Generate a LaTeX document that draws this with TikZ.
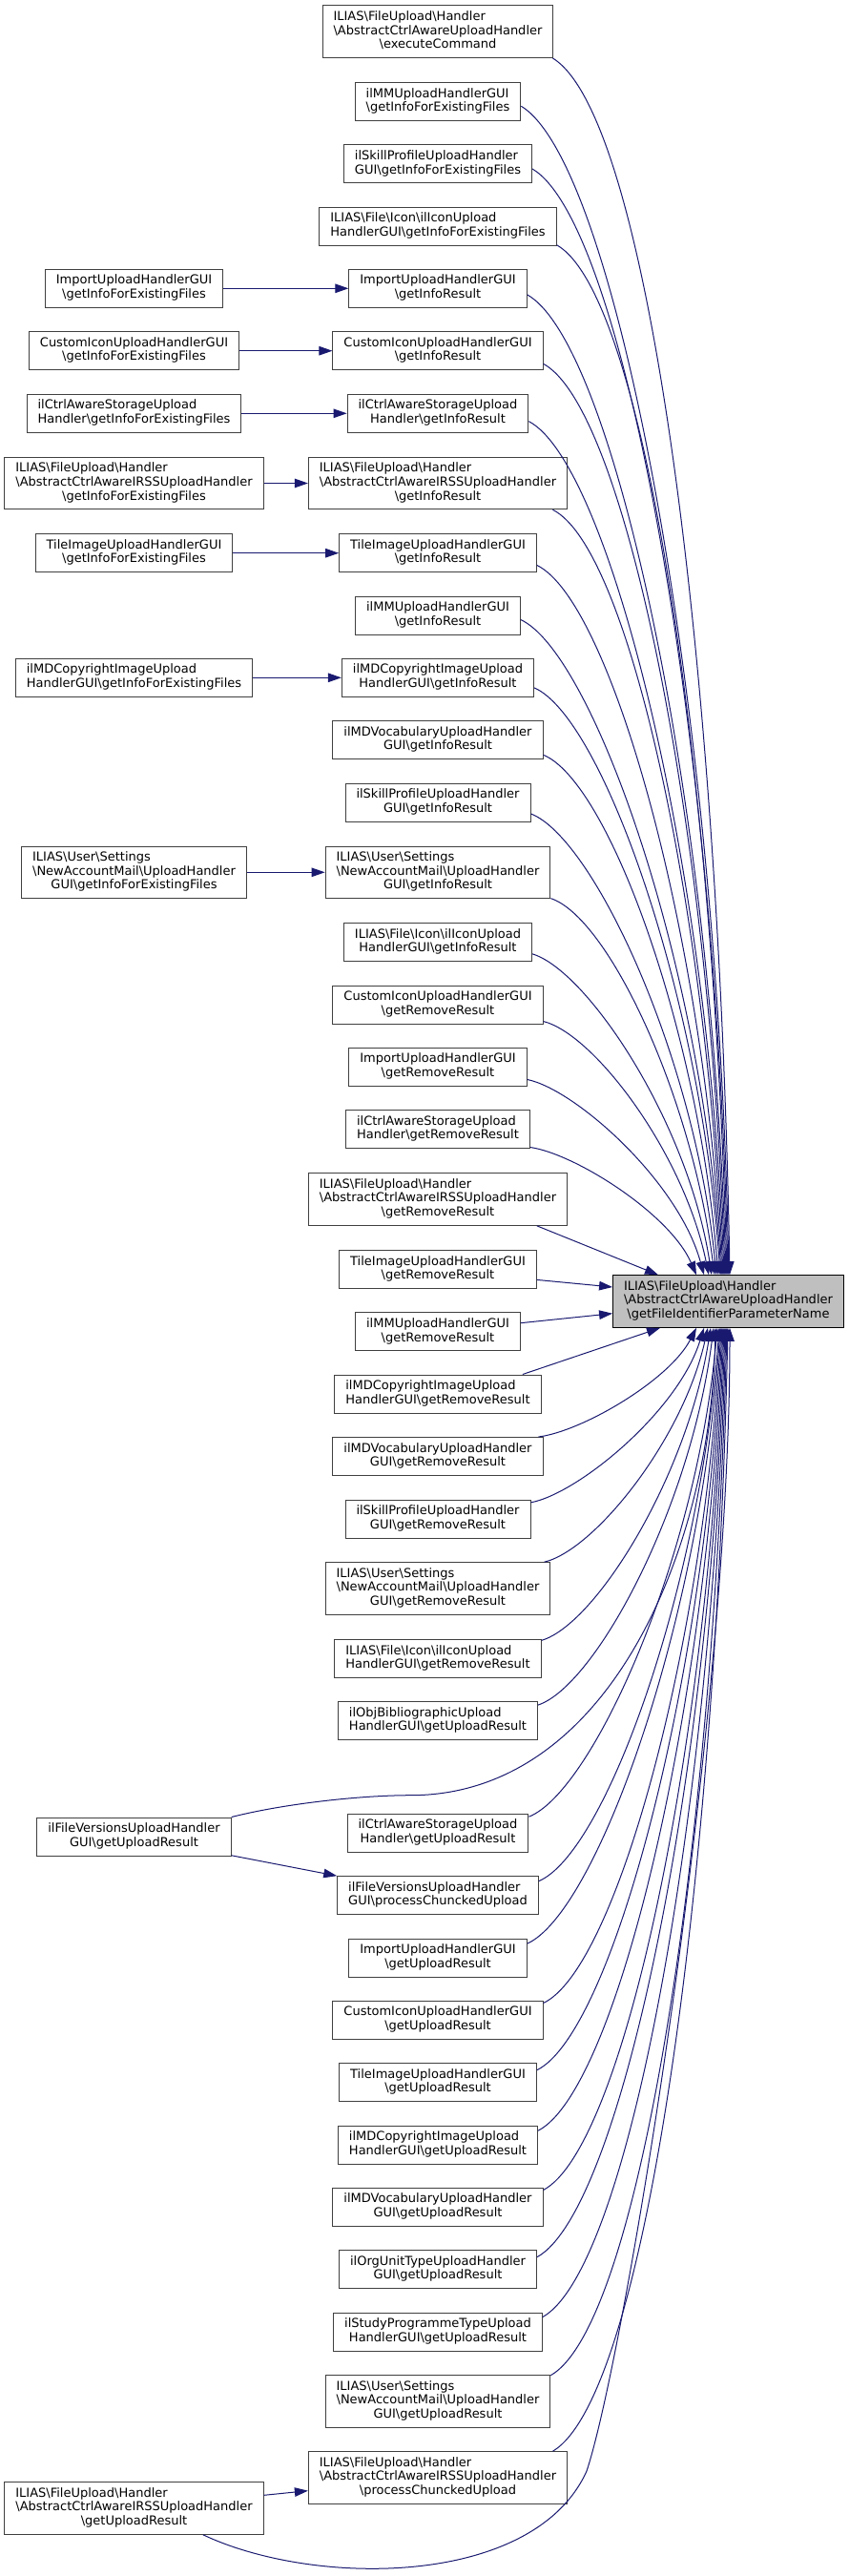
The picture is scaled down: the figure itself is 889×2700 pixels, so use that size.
\documentclass[tikz,border=0pt]{standalone}
\usepackage{fontspec}
\setmainfont{DejaVu Sans}
\usepackage{tikz}
\usetikzlibrary{arrows.meta, calc}
\definecolor{edgeBlue}{RGB}{25, 25, 112}
\definecolor{borderGray}{RGB}{64, 64, 64}
\definecolor{focusGray}{RGB}{191, 191, 191}
\newcommand{\bksl}{\textbackslash}
\newcommand{\twoline}[2]{\begin{tabular}{@{}l@{}}#1\\\multicolumn{1}{@{}c@{}}{#2}\end{tabular}}
\newcommand{\threeline}[3]{\begin{tabular}{@{}l@{}}#1\\#2\\\multicolumn{1}{@{}c@{}}{#3}\end{tabular}}
\tikzset{
  func/.style={rectangle, draw=borderGray, line width=1pt, fill=white, inner xsep=11.5pt, inner ysep=5.4pt, font=\fontsize{13}{14.6}\selectfont},
  focus/.style={func, draw=black, fill=focusGray},
  callarrow/.style={draw=edgeBlue, line width=1pt, -{Triangle[length=14pt, width=9.5pt]}}
}

\begin{document}
\begin{tikzpicture}[x=1pt, y=-1pt]
  \useasboundingbox (0,0) rectangle (889,2700);

  % Nodo de la funcion llamada
  \node[focus] (t) at (763.5,1364) {\threeline{ILIAS\bksl FileUpload\bksl Handler}{\bksl AbstractCtrlAwareUploadHandler}{\bksl getFileIdentifierParameterName}};

  % Columna central: llamadores directos
  \node[func] (m1) at (459,33.2) {\threeline{ILIAS\bksl FileUpload\bksl Handler}{\bksl AbstractCtrlAwareUploadHandler}{\bksl executeCommand}};
  \node[func] (m2) at (459,106.7) {\twoline{ilMMUploadHandlerGUI}{\bksl getInfoForExistingFiles}};
  \node[func] (m3) at (459,171.8) {\twoline{ilSkillProfileUploadHandler}{GUI\bksl getInfoForExistingFiles}};
  \node[func] (m4) at (459,237) {\twoline{ILIAS\bksl File\bksl Icon\bksl ilIconUpload}{HandlerGUI\bksl getInfoForExistingFiles}};
  \node[func] (m5) at (459,302.3) {\twoline{ImportUploadHandlerGUI}{\bksl getInfoResult}};
  \node[func] (m6) at (459,367.7) {\twoline{CustomIconUploadHandlerGUI}{\bksl getInfoResult}};
  \node[func] (m7) at (459,433.3) {\twoline{ilCtrlAwareStorageUpload}{Handler\bksl getInfoResult}};
  \node[func] (m8) at (459,506.5) {\threeline{ILIAS\bksl FileUpload\bksl Handler}{\bksl AbstractCtrlAwareIRSSUploadHandler}{\bksl getInfoResult}};
  \node[func] (m9) at (459,579.7) {\twoline{TileImageUploadHandlerGUI}{\bksl getInfoResult}};
  \node[func] (m10) at (459,645) {\twoline{ilMMUploadHandlerGUI}{\bksl getInfoResult}};
  \node[func] (m11) at (459,710.3) {\twoline{ilMDCopyrightImageUpload}{HandlerGUI\bksl getInfoResult}};
  \node[func] (m12) at (459,775.7) {\twoline{ilMDVocabularyUploadHandler}{GUI\bksl getInfoResult}};
  \node[func] (m13) at (459,841) {\twoline{ilSkillProfileUploadHandler}{GUI\bksl getInfoResult}};
  \node[func] (m14) at (459,914.3) {\threeline{ILIAS\bksl User\bksl Settings}{\bksl NewAccountMail\bksl UploadHandler}{GUI\bksl getInfoResult}};
  \node[func] (m15) at (459,987.7) {\twoline{ILIAS\bksl File\bksl Icon\bksl ilIconUpload}{HandlerGUI\bksl getInfoResult}};
  \node[func] (m16) at (459,1053) {\twoline{CustomIconUploadHandlerGUI}{\bksl getRemoveResult}};
  \node[func] (m17) at (459,1118.3) {\twoline{ImportUploadHandlerGUI}{\bksl getRemoveResult}};
  \node[func] (m18) at (459,1183.7) {\twoline{ilCtrlAwareStorageUpload}{Handler\bksl getRemoveResult}};
  \node[func] (m19) at (459,1257) {\threeline{ILIAS\bksl FileUpload\bksl Handler}{\bksl AbstractCtrlAwareIRSSUploadHandler}{\bksl getRemoveResult}};
  \node[func] (m20) at (459,1330.5) {\twoline{TileImageUploadHandlerGUI}{\bksl getRemoveResult}};
  \node[func] (m21) at (459,1395.8) {\twoline{ilMMUploadHandlerGUI}{\bksl getRemoveResult}};
  \node[func] (m22) at (459,1461) {\twoline{ilMDCopyrightImageUpload}{HandlerGUI\bksl getRemoveResult}};
  \node[func] (m23) at (459,1526.5) {\twoline{ilMDVocabularyUploadHandler}{GUI\bksl getRemoveResult}};
  \node[func] (m24) at (459,1592) {\twoline{ilSkillProfileUploadHandler}{GUI\bksl getRemoveResult}};
  \node[func] (m25) at (459,1665) {\threeline{ILIAS\bksl User\bksl Settings}{\bksl NewAccountMail\bksl UploadHandler}{GUI\bksl getRemoveResult}};
  \node[func] (m26) at (459,1738.5) {\twoline{ILIAS\bksl File\bksl Icon\bksl ilIconUpload}{HandlerGUI\bksl getRemoveResult}};
  \node[func] (m27) at (459,1803.7) {\twoline{ilObjBibliographicUpload}{HandlerGUI\bksl getUploadResult}};
  \node[func] (m28) at (459,1921) {\twoline{ilCtrlAwareStorageUpload}{Handler\bksl getUploadResult}};
  \node[func] (m29) at (459,1986.5) {\twoline{ilFileVersionsUploadHandler}{GUI\bksl processChunckedUpload}};
  \node[func] (m30) at (459,2052) {\twoline{ImportUploadHandlerGUI}{\bksl getUploadResult}};
  \node[func] (m31) at (459,2117) {\twoline{CustomIconUploadHandlerGUI}{\bksl getUploadResult}};
  \node[func] (m32) at (459,2182.5) {\twoline{TileImageUploadHandlerGUI}{\bksl getUploadResult}};
  \node[func] (m33) at (459,2248) {\twoline{ilMDCopyrightImageUpload}{HandlerGUI\bksl getUploadResult}};
  \node[func] (m34) at (459,2313) {\twoline{ilMDVocabularyUploadHandler}{GUI\bksl getUploadResult}};
  \node[func] (m35) at (459,2378.5) {\twoline{ilOrgUnitTypeUploadHandler}{GUI\bksl getUploadResult}};
  \node[func] (m36) at (459,2444) {\twoline{ilStudyProgrammeTypeUpload}{HandlerGUI\bksl getUploadResult}};
  \node[func] (m37) at (459,2517) {\threeline{ILIAS\bksl User\bksl Settings}{\bksl NewAccountMail\bksl UploadHandler}{GUI\bksl getUploadResult}};
  \node[func] (m38) at (459,2597) {\threeline{ILIAS\bksl FileUpload\bksl Handler}{\bksl AbstractCtrlAwareIRSSUploadHandler}{\bksl processChunckedUpload}};

  % Columna izquierda: llamadores indirectos
  \node[func] (lImp) at (140.5,302.3) {\twoline{ImportUploadHandlerGUI}{\bksl getInfoForExistingFiles}};
  \node[func] (lCus) at (140.5,367.7) {\twoline{CustomIconUploadHandlerGUI}{\bksl getInfoForExistingFiles}};
  \node[func] (lCtrl) at (140.5,433.3) {\twoline{ilCtrlAwareStorageUpload}{Handler\bksl getInfoForExistingFiles}};
  \node[func] (lIrss) at (140.5,506.5) {\threeline{ILIAS\bksl FileUpload\bksl Handler}{\bksl AbstractCtrlAwareIRSSUploadHandler}{\bksl getInfoForExistingFiles}};
  \node[func] (lTile) at (140.5,579.7) {\twoline{TileImageUploadHandlerGUI}{\bksl getInfoForExistingFiles}};
  \node[func] (lMDC) at (140.5,710.3) {\twoline{ilMDCopyrightImageUpload}{HandlerGUI\bksl getInfoForExistingFiles}};
  \node[func] (lNam) at (140.5,914.3) {\threeline{ILIAS\bksl User\bksl Settings}{\bksl NewAccountMail\bksl UploadHandler}{GUI\bksl getInfoForExistingFiles}};
  \node[func] (lfv) at (140.5,1925) {\twoline{ilFileVersionsUploadHandler}{GUI\bksl getUploadResult}};
  \node[func] (lIrssUp) at (140.5,2629) {\threeline{ILIAS\bksl FileUpload\bksl Handler}{\bksl AbstractCtrlAwareIRSSUploadHandler}{\bksl getUploadResult}};

  % Flechas de izquierda a centro
  \draw[callarrow] (lImp) -- (m5);
  \draw[callarrow] (lCus) -- (m6);
  \draw[callarrow] (lCtrl) -- (m7);
  \draw[callarrow] (lIrss) -- (m8);
  \draw[callarrow] (lTile) -- (m9);
  \draw[callarrow] (lMDC) -- (m11);
  \draw[callarrow] (lNam) -- (m14);
  \draw[callarrow] (lfv) -- (m29);
  \draw[callarrow] (lIrssUp) -- (m38);

  % Curvas hacia el nodo llamado
  \foreach \m/\a/\s/\e in {m1/-13/north/1.5, m2/-3/north/0.5, m3/-3/north/-0.5, m4/-9/north/-1.5,
      m5/-4/north/-2.5, m6/-7/north/-3.5, m7/-5/north/-4.5, m8/-13/north/-5.5, m9/-7/north/-6.5,
      m10/-3/north/-7.5, m11/-6/north/-8.5, m12/-8/north/-10.5, m13/-7/north/-12.5, m14/-13/north/-14.5,
      m15/-7/north/-17.5, m16/-9/north/-20.5, m17/-8/north/-25.5, m18/-11/north/-33.5,
      m23/11/south/-33.5, m24/10/south/-25.5, m25/14/south/-21.5, m26/10/south/-18.5, m27/9/south/-15.5,
      m28/10/south/-11.5, m29/8/south/-9.5, m30/9/south/-8.5, m31/9/south/-7.5, m32/7/south/-6.5,
      m33/8/south/-5.5, m34/9/south/-4.5, m35/7/south/-3.5, m36/8/south/-2.5, m37/13/south/-1.5,
      m38/13/south/-0.5}
    \draw[callarrow] let \p1=(\m.\a), \p2=([xshift=\e pt]t.\s) in
      (\p1) .. controls +({40pt+0.05*abs((\y1)-(\y2))}, {0.05*((\y2)-(\y1))})
                and +({-30pt+0.015*abs((\y1)-(\y2))}, {0.48*((\y1)-(\y2))}) .. (\p2);

  % Tramos casi rectos
  \draw[callarrow] (m19.-15.7) -- ([xshift=-73.5pt]t.north);
  \draw[callarrow] (m20.-6) -- ([yshift=15pt]t.west);
  \draw[callarrow] (m21.6) -- ([yshift=-12.7pt]t.west);
  \draw[callarrow] (m22.13) -- ([xshift=-71.5pt]t.south);

  % Llamadas directas desde la columna izquierda
  \draw[callarrow] (lfv.north east) .. controls (300,1890) and (380,1881.7) .. (430,1881.7)
    .. controls (640,1882) and (745,1620) .. ([xshift=-13.5pt]t.south);
  \draw[callarrow] (lIrssUp.-21) .. controls (330,2712) and (560,2712) .. (615,2590)
    .. controls (655,2470) and (765,1800) .. ([xshift=1.5pt]t.south);
\end{tikzpicture}
\end{document}
